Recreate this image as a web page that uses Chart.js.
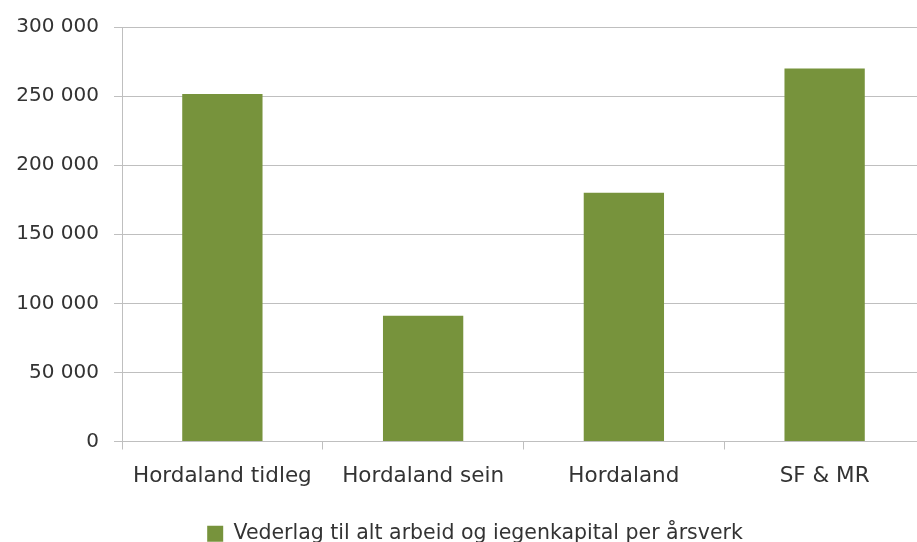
<!DOCTYPE html>
<html>
<head>
<meta charset="utf-8">
<script src="https://cdn.jsdelivr.net/npm/chart.js@4.4.0/dist/chart.umd.min.js"></script>
<style>
  html, body { margin: 0; padding: 0; overflow: hidden; background: #fff; }
  #wrap { position: absolute; left: 0; top: 0; width: 925px; height: 554px; }
</style>
</head>
<body>
<div id="wrap"><canvas id="chart"></canvas></div>
<script>
const categories = ['Hordaland tidleg', 'Hordaland sein', 'Hordaland', 'SF & MR'];
const values = [251500, 91000, 180000, 270000];
const seriesName = 'Vederlag til alt arbeid og iegenkapital per årsverk';

const textColor = '#333333';
const gridColor = '#BFBFBF';
const fontFamily = '"DejaVu Sans", "Open Sans", sans-serif';

// the legend in the original sits a little right of the page centre
const legendNudge = {
  id: 'legendNudge',
  afterLayout(chart) { chart.legend.left += 25; }
};

const ctx = document.getElementById('chart').getContext('2d');
new Chart(ctx, {
  type: 'bar',
  data: {
    labels: categories,
    datasets: [{
      label: seriesName,
      data: values,
      backgroundColor: '#77933C',
      borderWidth: 0,
      barPercentage: 0.4,
      categoryPercentage: 1.0
    }]
  },
  plugins: [legendNudge],
  options: {
    responsive: true,
    maintainAspectRatio: false,
    animation: false,
    devicePixelRatio: 1,
    layout: { padding: { left: 0, top: 25, right: 0, bottom: 0 } },
    plugins: {
      legend: {
        position: 'bottom',
        labels: {
          color: textColor,
          boxWidth: 16,
          boxHeight: 16,
          padding: 10,
          font: { family: fontFamily, size: 20.5 }
        }
      },
      tooltip: { enabled: false }
    },
    scales: {
      x: {
        grid: {
          display: true,
          drawOnChartArea: false,
          drawTicks: true,
          tickLength: 8,
          color: gridColor
        },
        border: { display: true, color: gridColor },
        ticks: {
          color: textColor,
          padding: 14,
          maxRotation: 0,
          font: { family: fontFamily, size: 21.5 }
        },
        afterFit(scale) { scale.height = 72; }
      },
      y: {
        min: 0,
        max: 300000,
        grid: {
          color: gridColor,
          tickLength: 8
        },
        border: { display: true, color: gridColor },
        ticks: {
          stepSize: 50000,
          color: textColor,
          padding: 15,
          font: { family: fontFamily, size: 20 },
          callback: v => String(v).replace(/\B(?=(\d{3})+(?!\d))/g, ' ')
        },
        afterFit(scale) { scale.width = 122; }
      }
    }
  }
});
</script>
</body>
</html>
